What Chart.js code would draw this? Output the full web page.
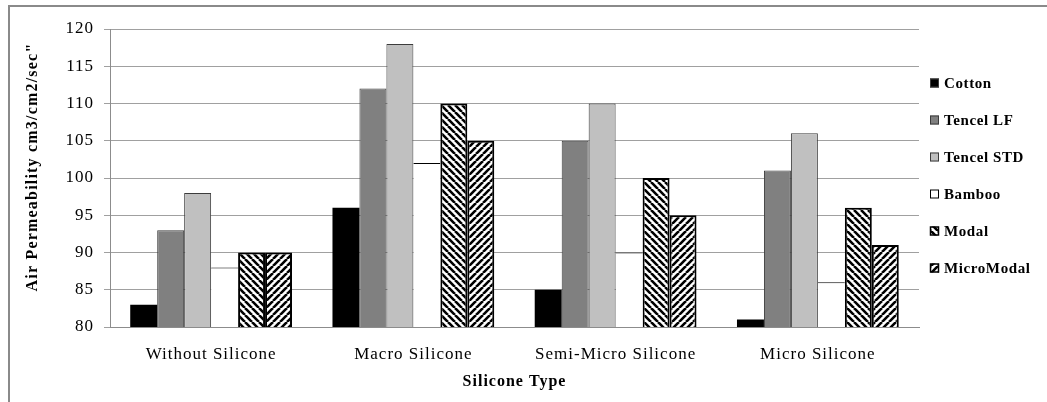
<!DOCTYPE html>
<html>
<head>
<meta charset="utf-8">
<title>Air Permeability by Silicone Type</title>
<script src="https://cdn.jsdelivr.net/npm/chart.js@4/dist/chart.umd.min.js"></script>
<style>
  html, body { margin: 0; padding: 0; background: #fff; }
  canvas { display: block; }
</style>
</head>
<body>
<canvas id="chart" width="1047" height="402"></canvas>
<script>
// Silicone finish types along the x axis
const categories = ['Without Silicone', 'Macro Silicone', 'Semi-Micro Silicone', 'Micro Silicone'];

// Air permeability (cm3/cm2/sec) per fibre
const cotton     = [83, 96, 85, 81];
const tencelLF   = [93, 112, 105, 101];
const tencelSTD  = [98, 118, 110, 106];
const bamboo     = [88, 102, 90, 86];
const modal      = [90, 110, 100, 96];
const microModal = [90, 105, 95, 91];

// Value axis range and step
const yMin = 80, yMax = 120, yStep = 5;
const yTitle = 'Air Permeability cm3/cm2/sec"';

const SERIF = '"Liberation Serif", "Times New Roman", Times, serif';
const canvas = document.getElementById('chart');
const ctx = canvas.getContext('2d');

// Diagonal hatch fill: '\\' runs down-right, '/' runs up-right
function hatch(dir) {
  const s = 7;
  const tile = document.createElement('canvas');
  tile.width = tile.height = s;
  const g = tile.getContext('2d');
  g.fillStyle = '#fff';
  g.fillRect(0, 0, s, s);
  g.strokeStyle = '#000';
  g.lineWidth = 2.6;
  g.beginPath();
  for (const k of [-s, 0, s]) {
    if (dir === '\\') { g.moveTo(k, 0); g.lineTo(k + s, s); }
    else { g.moveTo(k, s); g.lineTo(k + s, 0); }
  }
  g.stroke();
  return ctx.createPattern(tile, 'repeat');
}

// Outer frame, text spacing, value-axis title and the side legend
const decorations = {
  id: 'decorations',
  beforeDraw(chart) {
    const c = chart.ctx;
    c.letterSpacing = '1px';
    c.save();
    c.fillStyle = '#fff';
    c.fillRect(0, 0, chart.width, chart.height);
    c.strokeStyle = '#8a8a8a';
    c.lineWidth = 2;
    c.beginPath();
    c.moveTo(9, chart.height);
    c.lineTo(9, 6);
    c.lineTo(chart.width, 6);
    c.stroke();
    c.restore();
  },
  afterDraw(chart) {
    const c = chart.ctx;
    c.save();
    // value-axis title, rotated
    c.letterSpacing = '1.2px';
    c.font = 'bold 16px ' + SERIF;
    c.fillStyle = '#000';
    c.textAlign = 'center';
    c.textBaseline = 'middle';
    c.translate(33, 167);
    c.rotate(-Math.PI / 2);
    c.fillText(yTitle, 0, 0);
    c.restore();

    c.save();
    c.letterSpacing = '0.6px';
    c.font = 'bold 15px ' + SERIF;
    c.textBaseline = 'middle';
    c.textAlign = 'left';
    const x0 = 930, y0 = 83, step = 37, box = 9;
    chart.data.datasets.forEach((ds, i) => {
      const y = y0 + i * step;
      c.fillStyle = ds.backgroundColor;
      c.fillRect(x0, y - box / 2, box, box);
      c.lineWidth = (i >= 4) ? 1.5 : 1;
      c.strokeStyle = (i >= 3) ? '#000' : '#3c3c3c';
      c.strokeRect(x0 + 0.5, y - box / 2 + 0.5, box - 1, box - 1);
      c.fillStyle = '#000';
      c.fillText(ds.label, x0 + 14, y + 1);
    });
    c.restore();
  }
};

new Chart(ctx, {
  type: 'bar',
  data: {
    labels: categories,
    datasets: [
      { label: 'Cotton', data: cotton, backgroundColor: '#000000', borderWidth: 0 },
      { label: 'Tencel LF', data: tencelLF, backgroundColor: '#808080', borderColor: '#3c3c3c', borderWidth: 1 },
      { label: 'Tencel STD', data: tencelSTD, backgroundColor: '#c0c0c0', borderColor: '#3c3c3c', borderWidth: 1 },
      { label: 'Bamboo', data: bamboo, backgroundColor: '#ffffff', borderColor: '#000000',
        borderWidth: { top: 1, left: 0, right: 0, bottom: 0 } },
      { label: 'Modal', data: modal, backgroundColor: hatch('\\'), borderColor: '#000000', borderWidth: 2 },
      { label: 'MicroModal', data: microModal, backgroundColor: hatch('/'), borderColor: '#000000', borderWidth: 2 }
    ]
  },
  options: {
    responsive: false,
    animation: false,
    devicePixelRatio: 1,
    layout: { padding: { left: 0, right: 128, top: 29, bottom: 0 } },
    datasets: { bar: { categoryPercentage: 0.8, barPercentage: 1.0 } },
    plugins: {
      legend: { display: false },
      tooltip: { enabled: false }
    },
    scales: {
      x: {
        grid: { display: false },
        border: { color: '#8c8c8c', width: 1 },
        ticks: { color: '#000', font: { family: SERIF, size: 17 }, padding: 9, maxRotation: 0 },
        title: {
          display: true, text: 'Silicone Type', color: '#000',
          font: { family: SERIF, size: 16, weight: 'bold' },
          padding: { top: 0, bottom: 11 }
        },
        afterFit(scale) { scale.height = 75; }
      },
      y: {
        min: yMin, max: yMax,
        ticks: { stepSize: yStep, color: '#000', font: { family: SERIF, size: 17 }, padding: 10 },
        grid: { color: '#a0a0a0', lineWidth: 1, tickLength: 6 },
        border: { color: '#8c8c8c', width: 1 },
        afterFit(scale) { scale.width = 110; }
      }
    }
  },
  plugins: [decorations]
});
</script>
</body>
</html>
